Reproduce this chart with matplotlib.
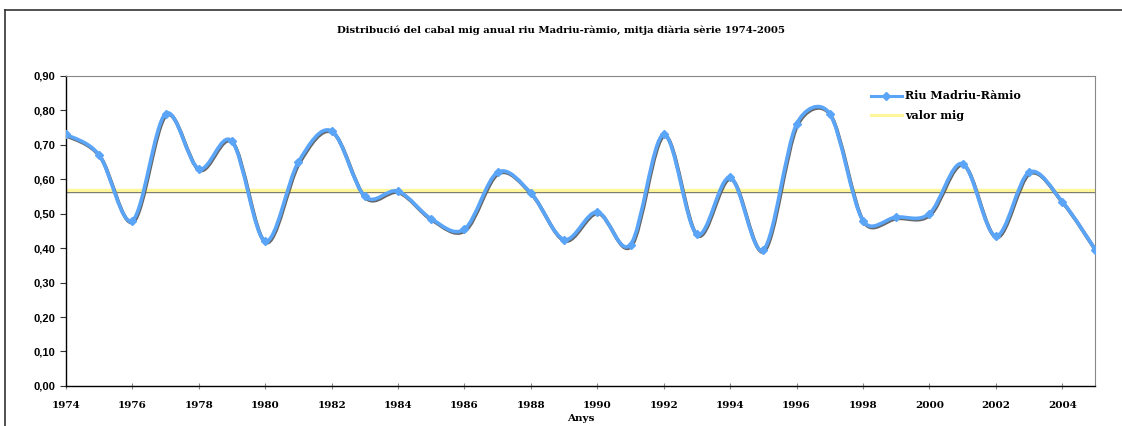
import numpy as np
from matplotlib import pyplot as plt
from matplotlib.path import Path
from matplotlib.patches import PathPatch
from matplotlib.lines import Line2D
import matplotlib.patheffects as pe

# annual mean flow (m3/s), Riu Madriu-Ràmio 1974-2005
years = list(range(1974, 2006))
cabal = [0.73, 0.67, 0.48, 0.79, 0.63, 0.71, 0.42, 0.65, 0.74, 0.55,
         0.565, 0.485, 0.455, 0.62, 0.56, 0.425, 0.505, 0.41, 0.73, 0.44,
         0.605, 0.395, 0.76, 0.79, 0.48, 0.49, 0.50, 0.645, 0.435, 0.62,
         0.535, 0.395]
xticks = list(range(1974, 2005, 2))
yticks = [0.0, 0.1, 0.2, 0.3, 0.4, 0.5, 0.6, 0.7, 0.8, 0.9]

title = "Distribució del cabal mig anual riu Madriu-ràmio, mitja diària sèrie 1974-2005"
serie_label = "Riu Madriu-Ràmio"
mig_label = "valor mig"

BLUE = '#5aa5f7'
YELLOW = '#fff59a'
SERIF = ['DejaVu Serif']


def smooth_path(x, y, sx=33.2, sy=344.0):
    """Excel style smoothed line as cubic bezier segments (legs capped in screen space)."""
    pts = np.column_stack([x, y]).astype(float)
    scale = np.array([sx, sy])
    verts = [pts[0]]
    codes = [Path.MOVETO]
    n = len(pts)
    for i in range(n - 1):
        p0 = pts[i - 1] if i > 0 else pts[i]
        p1 = pts[i]
        p2 = pts[i + 1]
        p3 = pts[i + 2] if i + 2 < n else pts[i + 1]
        seg = np.hypot(*((p2 - p1) * scale))
        legs = []
        for d in [(p2 - p0) / 6.0, (p3 - p1) / 6.0]:
            ln = np.hypot(*(d * scale))
            if ln > 0.5 * seg:
                d = d * (0.5 * seg / ln)
            legs.append(d)
        verts += [p1 + legs[0], p2 - legs[1], p2]
        codes += [Path.CURVE4] * 3
    return Path(verts, codes)


fig = plt.figure(figsize=(11.22, 4.26), dpi=100)
ax = fig.add_axes([0.0588, 0.094, 0.9175, 0.728])

shadow = [pe.SimpleLineShadow(offset=(0.6, -1.0), shadow_color='#555555', alpha=0.9), pe.Normal()]

valor_mig = float(np.mean(cabal))
ax.axhline(valor_mig, color=YELLOW, lw=2.4, path_effects=shadow, zorder=2)

patch = PathPatch(smooth_path(years, cabal), facecolor='none', edgecolor=BLUE,
                  lw=2.6, path_effects=shadow, zorder=3)
ax.add_patch(patch)
ax.plot(years, cabal, linestyle='none', marker='D', ms=4.5, color=BLUE, zorder=4)

# legend proxies
h1, = ax.plot([], [], color=BLUE, lw=2.2, marker='D', ms=4.5)
h2, = ax.plot([], [], color=YELLOW, lw=2.2)
ax.legend([h1, h2], [serie_label, mig_label], loc='upper left',
          bbox_to_anchor=(0.772, 0.985), frameon=False, handlelength=2.8,
          handletextpad=0.3, labelspacing=0.8,
          prop={'family': SERIF, 'weight': 'bold', 'size': 8})

ax.set_xlim(1974, 2005)
ax.set_ylim(0, 0.9)
ax.set_xticks(xticks)
ax.set_xticklabels([str(t) for t in xticks], family=SERIF, weight='bold', fontsize=7.5)
ax.set_yticks(yticks)
ax.set_yticklabels([f"{t:.2f}".replace('.', ',') for t in yticks],
                   family='Liberation Sans', weight='bold', fontsize=8)
ax.tick_params(axis='y', direction='out', length=4, width=0.8, color='#333333')
ax.tick_params(axis='x', direction='inout', length=5, width=0.8, color='#888888', pad=8)
for side in ['top', 'right']:
    ax.spines[side].set_color('#888888')
    ax.spines[side].set_linewidth(0.8)
for side in ['left', 'bottom']:
    ax.spines[side].set_color('black')
    ax.spines[side].set_linewidth(1.0)

ax.set_xlabel("Anys", family=SERIF, weight='bold', fontsize=7.5, labelpad=3.5)
fig.text(0.5, 0.93, title, ha='center', va='center', family=SERIF,
         weight='bold', fontsize=7.3)

# chart area border (top and left edges visible)
top = 1 - 10 / 426
left = 5 / 1122
fig.add_artist(Line2D([left, 1.0], [top, top], transform=fig.transFigure, color='#333333', lw=1.2))
fig.add_artist(Line2D([left, left], [0.0, top], transform=fig.transFigure, color='#333333', lw=1.2))

fig.savefig('out.png', dpi=100)
